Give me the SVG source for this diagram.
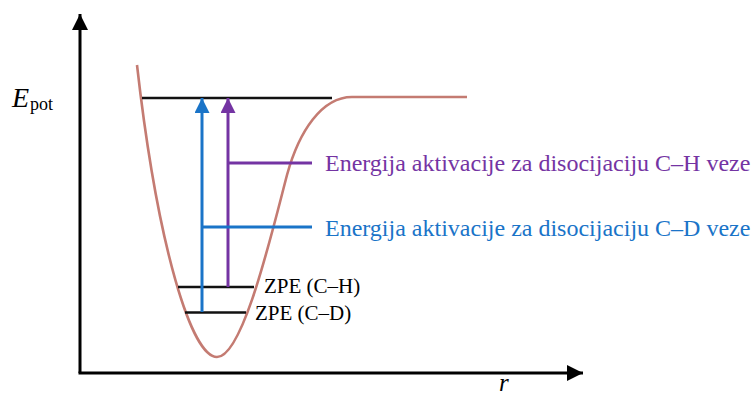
<svg xmlns="http://www.w3.org/2000/svg" width="754" height="396" viewBox="0 0 754 396">
<defs>
<style>
.ax{stroke:#000;stroke-width:3;fill:none}
.lvl{stroke:#111;stroke-width:2.6;fill:none}
.curve{stroke:#c47b72;stroke-width:2.6;fill:none;stroke-linejoin:round}
.blue{stroke:#1a74c8;stroke-width:3;fill:none}
.purple{stroke:#7434a3;stroke-width:3;fill:none}
text{font-family:'Liberation Serif','Times New Roman','DejaVu Serif',serif}
</style>
<marker id="ab" markerUnits="userSpaceOnUse" markerWidth="16" markerHeight="16" refX="15" refY="7.5" orient="auto"><path d="M0,0 L15,7.5 L0,15 Z" fill="#1a74c8"/></marker>
<marker id="ap" markerUnits="userSpaceOnUse" markerWidth="16" markerHeight="16" refX="15" refY="7.5" orient="auto"><path d="M0,0 L15,7.5 L0,15 Z" fill="#7434a3"/></marker>
<marker id="ak" markerUnits="userSpaceOnUse" markerWidth="17" markerHeight="17" refX="16" refY="8" orient="auto"><path d="M0,0 L16,8 L0,16 Z" fill="#000"/></marker>
</defs>
<rect width="754" height="396" fill="#fff"/>
<g id="axes">
<path class="ax" d="M80,373 L80,14" marker-end="url(#ak)"/>
<path class="ax" d="M78.5,373 L583,373" marker-end="url(#ak)"/>
<text x="12" y="107" font-family="Liberation Serif, serif" font-size="28" font-style="italic">E</text>
<text x="30" y="110" font-family="Liberation Serif, serif" font-size="18">pot</text>
<text x="499" y="391" font-family="Liberation Serif, serif" font-size="25" font-style="italic">r</text>
</g>
<g id="curve">
<path class="curve" d="M137,65 C158,250 192,357 217,357 C243,357 272,232 287,175 C299,131 322,97 352,97 L467,97"/>
</g>
<g id="levels">
<path class="lvl" d="M142,98 L332,98"/>
<path class="lvl" d="M178,287 L254,287"/>
<path class="lvl" d="M185,312.5 L246,312.5"/>
</g>
<g id="connectors">
<path class="blue" d="M202,312 L202,98" marker-end="url(#ab)"/>
<path class="purple" d="M228,287 L228,98" marker-end="url(#ap)"/>
<path class="purple" d="M228,163 L312,163"/>
<path class="blue" d="M202,227 L312,227"/>
</g>
<g id="label-ch">
<text x="325" y="171" font-family="Liberation Serif, serif" font-size="24" fill="#7434a3">Energija aktivacije za disocijaciju C–H veze</text>
</g>
<g id="label-cd">
<text x="325" y="236" font-family="Liberation Serif, serif" font-size="24" fill="#1a74c8">Energija aktivacije za disocijaciju C–D veze</text>
</g>
<g id="zpe-ch">
<text x="264" y="293" font-family="Liberation Serif, serif" font-size="21">ZPE (C–H)</text>
</g>
<g id="zpe-cd">
<text x="255" y="320" font-family="Liberation Serif, serif" font-size="21">ZPE (C–D)</text>
</g>
</svg>
